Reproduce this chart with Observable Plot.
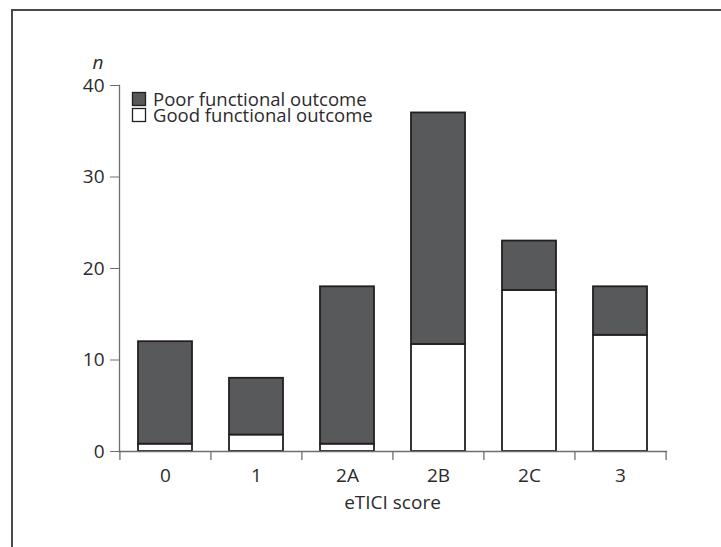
<!DOCTYPE html>
<html>
<head>
<meta charset="utf-8">
<script src="https://cdn.jsdelivr.net/npm/d3@7"></script>
<script src="https://cdn.jsdelivr.net/npm/@observablehq/plot@0.6"></script>
<style>
  body { margin: 0; background: #fff; }
  #wrap { position: relative; width: 721px; height: 547px; overflow: hidden; }
  #border { position: absolute; left: 11px; top: 9px; width: 800px; height: 700px; border-left: 2px solid #4a4a4a; border-top: 2px solid #4a4a4a; pointer-events: none; }
  #wrap svg { font-family: "Open Sans", "Noto Sans", sans-serif; }
</style>
</head>
<body>
<div id="wrap"><div id="border"></div></div>
<script>
const categories = ["0", "1", "2A", "2B", "2C", "3"];
const totals = [12, 8, 18, 37, 23, 18];
const good = [0.8, 1.8, 0.8, 11.7, 17.6, 12.7];
const seriesNames = ["Poor functional outcome", "Good functional outcome"];
const seriesColors = ["#58595b", "#ffffff"];
const yTicks = [0, 10, 20, 30, 40];

const rows = [];
categories.forEach((c, i) => {
  rows.push({cat: c, outcome: seriesNames[1], n: good[i]});
  rows.push({cat: c, outcome: seriesNames[0], n: totals[i] - good[i]});
});

const W = 721, H = 547;
const mL = 119, mR = 55, mT = 85, mB = 96;
const step = (W - mL - mR) / categories.length;
const pad = 0.405;
const ink = "#2b2b2b";
const axisGray = "#6d6e71";

const chart = Plot.plot({
  width: W, height: H,
  marginLeft: mL, marginRight: mR, marginTop: mT, marginBottom: mB,
  style: {fontSize: "19px", color: ink, background: "transparent", overflow: "visible"},
  x: {domain: categories, paddingInner: pad, paddingOuter: pad / 2, align: 0.5, label: null},
  y: {domain: [0, 40], label: null},
  color: {domain: seriesNames, range: seriesColors},
  marks: [
    Plot.barY(rows, {
      x: "cat", y: "n", fill: "outcome",
      order: [seriesNames[1], seriesNames[0]],
      stroke: "#231f20", strokeWidth: 1.8
    }),
    Plot.frame({anchor: "left", stroke: axisGray, strokeWidth: 1.3}),
    Plot.frame({anchor: "bottom", stroke: axisGray, strokeWidth: 1.3}),
    Plot.axisY({ticks: yTicks, tickSize: 9, tickPadding: 6, stroke: axisGray, fill: ink, fontSize: 19, label: null}),
    Plot.axisX({tickSize: 0, tickPadding: 17, fill: ink, fontSize: 19, label: null}),
    Plot.ruleX(categories, {x: d => d, dx: -step / 2, y1: 0, y2: 0, insetBottom: -9, stroke: axisGray, strokeWidth: 1.3}),
    Plot.ruleX(categories.slice(-1), {x: d => d, dx: step / 2, y1: 0, y2: 0, insetBottom: -9, stroke: axisGray, strokeWidth: 1.3})
  ]
});

document.getElementById("wrap").appendChild(chart);

// Decorations inside the svg: axis titles and legend
const svg = d3.select(chart);

svg.append("text")
  .attr("x", mL - 21).attr("y", mT - 16)
  .attr("text-anchor", "middle")
  .attr("font-style", "italic").attr("font-size", 19).attr("fill", ink)
  .text("n");

svg.append("text")
  .attr("x", mL + (W - mL - mR) / 2).attr("y", H - mB + 58)
  .attr("text-anchor", "middle")
  .attr("font-size", 19).attr("fill", ink)
  .text("eTICI score");

const lg = svg.append("g").attr("transform", `translate(132, 92)`);
seriesNames.forEach((name, i) => {
  const g = lg.append("g").attr("transform", `translate(0, ${i * 16})`);
  g.append("rect").attr("x", 0.5).attr("y", 0.5).attr("width", 13).attr("height", 13)
    .attr("fill", seriesColors[i]).attr("stroke", "#231f20").attr("stroke-width", 1.3);
  g.append("text").attr("x", 21).attr("y", 7).attr("dy", "0.36em")
    .attr("text-anchor", "start")
    .attr("font-size", 18.5).attr("fill", ink).text(name);
});
</script>
</body>
</html>
